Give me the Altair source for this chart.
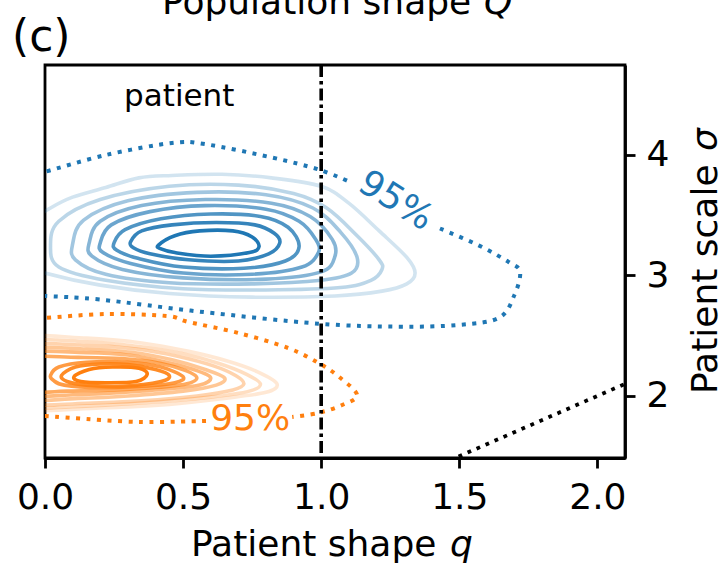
import altair as alt
import pandas as pd

FONT = "DejaVu Sans"
BLUE = "#1f77b4"
ORANGE = "#ff7f0e"

Q_DOMAIN = [0.0, 2.1]
S_DOMAIN = [1.485, 4.747]
Q_TICKS = [0.0, 0.5, 1.0, 1.5, 2.0]
S_TICKS = [2, 3, 4]

# ---- blue (patient posterior) contours, outermost first: (q, sigma) ----
blue_c1 = [(-0.12, 3.35), (0.02, 3.56), (0.10, 3.65), (0.22, 3.73), (0.34, 3.81), (0.46, 3.83),
           (0.64, 3.84), (0.82, 3.81), (1.00, 3.74), (1.10, 3.60), (1.21, 3.37), (1.31, 3.15),
           (1.34, 3.02), (1.31, 2.93), (1.22, 2.87), (1.05, 2.83), (0.75, 2.82), (0.45, 2.85),
           (0.20, 2.92), (0.00, 3.02), (-0.12, 3.12)]
blue_c2 = [(0.02, 3.25), (0.05, 3.45), (0.20, 3.63), (0.45, 3.74), (0.70, 3.75), (0.90, 3.68),
           (1.02, 3.56), (1.13, 3.33), (1.21, 3.13), (1.22, 3.05), (1.18, 2.96), (1.07, 2.90),
           (0.80, 2.88), (0.50, 2.89), (0.22, 2.96), (0.05, 3.07)]
blue_c3 = [(0.10, 3.26), (0.14, 3.46), (0.30, 3.62), (0.55, 3.69), (0.80, 3.67), (0.97, 3.56),
           (1.07, 3.36), (1.13, 3.15), (1.11, 3.02), (1.00, 2.96), (0.75, 2.93), (0.45, 2.94),
           (0.22, 3.01), (0.11, 3.13)]
blue_c4 = [(0.16, 3.27), (0.20, 3.45), (0.35, 3.58), (0.58, 3.63), (0.82, 3.60), (0.96, 3.49),
           (1.04, 3.30), (1.05, 3.16), (1.00, 3.03), (0.80, 2.97), (0.50, 2.98), (0.28, 3.05),
           (0.17, 3.16)]
blue_c5 = [(0.20, 3.27), (0.24, 3.42), (0.38, 3.53), (0.58, 3.58), (0.80, 3.55), (0.92, 3.45),
           (0.98, 3.30), (0.99, 3.19), (0.93, 3.07), (0.75, 3.01), (0.50, 3.02), (0.31, 3.10),
           (0.21, 3.19)]
blue_c6 = [(0.25, 3.27), (0.29, 3.38), (0.42, 3.47), (0.60, 3.51), (0.78, 3.49), (0.88, 3.40),
           (0.92, 3.24), (0.87, 3.12), (0.72, 3.06), (0.50, 3.07), (0.34, 3.14), (0.26, 3.21)]
blue_c7 = [(0.31, 3.28), (0.35, 3.37), (0.46, 3.42), (0.62, 3.44), (0.76, 3.42), (0.83, 3.35),
           (0.85, 3.27), (0.81, 3.18), (0.70, 3.12), (0.52, 3.13), (0.38, 3.18), (0.32, 3.23)]
blue_c8 = [(0.41, 3.25), (0.47, 3.33), (0.56, 3.37), (0.68, 3.37), (0.75, 3.32), (0.775, 3.24),
           (0.74, 3.19), (0.60, 3.16), (0.47, 3.19), (0.42, 3.22)]
blue_levels = [blue_c1, blue_c2, blue_c3, blue_c4, blue_c5, blue_c6, blue_c7, blue_c8]
blue_alpha = [0.2, 0.3, 0.42, 0.54, 0.66, 0.78, 0.9, 1.0]

# ---- orange (population) contours, outermost first ----
orange_c1 = [(-0.12, 2.48), (0.15, 2.48), (0.35, 2.44), (0.52, 2.37), (0.66, 2.29), (0.77, 2.20),
             (0.84, 2.10), (0.80, 2.03), (0.65, 1.98), (0.45, 1.93), (0.20, 1.90), (-0.12, 1.90),
             (-0.18, 2.19)]
orange_c2 = [(-0.12, 2.45), (0.15, 2.45), (0.34, 2.41), (0.50, 2.35), (0.63, 2.27), (0.73, 2.18),
             (0.78, 2.10), (0.74, 2.04), (0.60, 1.99), (0.40, 1.95), (0.18, 1.92), (-0.12, 1.92),
             (-0.18, 2.19)]
orange_c3 = [(-0.12, 2.42), (0.15, 2.42), (0.33, 2.39), (0.48, 2.33), (0.61, 2.25), (0.69, 2.17),
             (0.72, 2.10), (0.68, 2.05), (0.55, 2.00), (0.35, 1.96), (0.15, 1.94), (-0.12, 1.94),
             (-0.18, 2.19)]
orange_c4 = [(-0.12, 2.39), (0.15, 2.39), (0.32, 2.36), (0.46, 2.30), (0.58, 2.22), (0.65, 2.15),
             (0.62, 2.09), (0.50, 2.04), (0.30, 2.00), (0.12, 1.98), (-0.12, 1.97), (-0.18, 2.19)]
orange_c5 = [(-0.12, 2.36), (0.15, 2.36), (0.30, 2.34), (0.44, 2.28), (0.55, 2.21), (0.60, 2.15),
             (0.56, 2.09), (0.45, 2.06), (0.28, 2.03), (0.10, 2.01), (-0.12, 2.00), (-0.18, 2.18)]
orange_c6 = [(-0.12, 2.32), (0.12, 2.32), (0.28, 2.31), (0.42, 2.27), (0.51, 2.21), (0.55, 2.15),
             (0.51, 2.10), (0.40, 2.07), (0.25, 2.05), (0.08, 2.04), (-0.12, 2.03), (-0.18, 2.17)]
orange_c7 = [(0.02, 2.17), (0.05, 2.24), (0.15, 2.28), (0.30, 2.28), (0.42, 2.24), (0.50, 2.16),
             (0.47, 2.11), (0.35, 2.08), (0.20, 2.07), (0.07, 2.09), (0.03, 2.13)]
orange_c8 = [(0.06, 2.17), (0.11, 2.24), (0.20, 2.265), (0.30, 2.26), (0.40, 2.22), (0.45, 2.17),
             (0.42, 2.12), (0.28, 2.08), (0.15, 2.09), (0.08, 2.12)]
orange_c9 = [(0.105, 2.16), (0.16, 2.22), (0.245, 2.24), (0.34, 2.23), (0.37, 2.18), (0.33, 2.12),
             (0.22, 2.11), (0.13, 2.12)]
orange_levels = [orange_c1, orange_c2, orange_c3, orange_c4, orange_c5, orange_c6, orange_c7,
                 orange_c8, orange_c9]
orange_alpha = [0.18, 0.26, 0.34, 0.44, 0.54, 0.66, 0.78, 0.9, 1.0]

# ---- 95% credible contours (dotted), split where the label sits ----
blue95_a = [(-0.02, 3.85), (0.0, 3.86), (0.22, 4.0), (0.46, 4.10), (0.58, 4.09), (0.82, 3.98),
            (0.99, 3.88), (1.10, 3.78)]
blue95_b = [(1.43, 3.39), (1.57, 3.25), (1.68, 3.11), (1.72, 3.03), (1.70, 2.84), (1.645, 2.65),
            (1.50, 2.59), (1.28, 2.575), (0.99, 2.60), (0.56, 2.70), (0.20, 2.80), (0.0, 2.83),
            (-0.02, 2.832)]
orange95_a = [(-0.02, 2.645), (0.0, 2.647), (0.22, 2.68), (0.44, 2.664), (0.52, 2.614), (0.70, 2.523),
              (0.88, 2.398), (0.99, 2.274), (1.065, 2.158), (1.13, 2.008), (1.076, 1.925),
              (0.99, 1.859), (0.895, 1.826)]
orange95_b = [(0.583, 1.793), (0.34, 1.784), (0.10, 1.817), (0.0, 1.834), (-0.02, 1.836)]

label95_blue = (1.27, 3.62)
label95_orange = (0.743, 1.812)
patient_label = (0.486, 4.48)

diag_q = [1.4, 2.2]
diag_s = [1.4, 2.2]
vline_q = [1.0]

# ---------------- tables ----------------
rows = []
for grp, levels, alphas in [("blue", blue_levels, blue_alpha), ("orange", orange_levels, orange_alpha)]:
    for k, (pts, a) in enumerate(zip(levels, alphas)):
        for i, (q, s) in enumerate(pts):
            rows.append(dict(cid=f"{grp}{k}", group=grp, alpha=a, idx=i, q=q, s=s))
contour_df = pd.DataFrame(rows)

rows = []
for name, grp, pts in [("ba", "blue", blue95_a), ("bb", "blue", blue95_b),
                       ("oa", "orange", orange95_a), ("ob", "orange", orange95_b)]:
    for i, (q, s) in enumerate(pts):
        rows.append(dict(cid=name, group=grp, idx=i, q=q, s=s))
dot_df = pd.DataFrame(rows)

diag_df = pd.DataFrame({"q": diag_q, "s": diag_s, "idx": range(len(diag_q))})
vline_df = pd.DataFrame({"q": vline_q})

xscale = alt.Scale(domain=Q_DOMAIN, nice=False, zero=False)
yscale = alt.Scale(domain=S_DOMAIN, nice=False, zero=False)
common_axis = dict(grid=False, title=None, labelFont=FONT, labelFontSize=36, labelColor="black",
                   tickColor="black", tickWidth=2.8, tickSize=10, domainColor="black",
                   domainWidth=2.8, labelFlush=False, labelOverlap=False)
xaxis = alt.Axis(values=Q_TICKS, format=".1f", labelPadding=12, **common_axis)
yaxis = alt.Axis(orient="right", values=S_TICKS, format="d", labelPadding=11, **common_axis)


def X():
    return alt.X("q:Q", scale=xscale, axis=xaxis)


def Y():
    return alt.Y("s:Q", scale=yscale, axis=yaxis)


group_color = alt.Color("group:N", scale=alt.Scale(domain=["blue", "orange"], range=[BLUE, ORANGE]),
                        legend=None)

contours = alt.Chart(contour_df).mark_line(
    interpolate="cardinal-closed", strokeWidth=3.6, clip=True
).encode(x=X(), y=Y(), detail="cid:N", order="idx:Q", color=group_color,
         strokeOpacity=alt.StrokeOpacity("alpha:Q", scale=None))

dotted = alt.Chart(dot_df).mark_line(
    interpolate="cardinal", strokeWidth=4, strokeDash=[4, 6.5], clip=True
).encode(x=X(), y=Y(), detail="cid:N", order="idx:Q", color=group_color)

vline = alt.Chart(vline_df).mark_rule(
    color="black", strokeWidth=3.6, strokeDash=[12, 4, 3.5, 4]
).encode(x=X())

diag = alt.Chart(diag_df).mark_line(
    color="black", strokeWidth=3.8, strokeDash=[3.8, 6], clip=True
).encode(x=X(), y=Y(), order="idx:Q")

lab_b = alt.Chart(pd.DataFrame({"q": [label95_blue[0]], "s": [label95_blue[1]], "t": ["95%"]})).mark_text(
    font=FONT, fontSize=36, color=BLUE, angle=32, align="center", baseline="middle"
).encode(x=X(), y=Y(), text="t:N")
lab_o = alt.Chart(pd.DataFrame({"q": [label95_orange[0]], "s": [label95_orange[1]], "t": ["95%"]})).mark_text(
    font=FONT, fontSize=36, color=ORANGE, align="center", baseline="middle"
).encode(x=X(), y=Y(), text="t:N")
lab_p = alt.Chart(pd.DataFrame({"q": [patient_label[0]], "s": [patient_label[1]], "t": ["patient"]})).mark_text(
    font=FONT, fontSize=31, color="black", align="center", baseline="middle"
).encode(x=X(), y=Y(), text="t:N")


def free_text(txt, x, y, size=36, italic=False, angle=0, align="left"):
    kw = dict(font=FONT, fontSize=size, color="black", align=align, baseline="alphabetic")
    if italic:
        kw["fontStyle"] = "italic"
    if angle:
        kw["angle"] = angle
    return alt.Chart(pd.DataFrame({"t": [txt]})).mark_text(**kw).encode(
        x=alt.value(x), y=alt.value(y), text="t:N")


texts = [
    free_text("Population shape", 117, -51),
    free_text("Q", 439, -51, italic=True),
    free_text("(c)", -33, -14, size=44),
    free_text("Patient shape", 146, 491),
    free_text("q", 405, 491, italic=True),
    free_text("Patient scale", 672, 329, angle=270),
    free_text("σ", 672, 86, italic=True, angle=270),
]

chart = alt.layer(contours, dotted, vline, diag, lab_b, lab_o, lab_p, *texts).properties(
    width=580, height=393,
    autosize=alt.AutoSizeParams(type="none"),
    padding={"left": 45, "top": 65, "right": 100, "bottom": 112},
).configure_view(stroke="black", strokeWidth=2.8)

chart.save("out.html", embed_options={"renderer": "svg", "actions": False})
